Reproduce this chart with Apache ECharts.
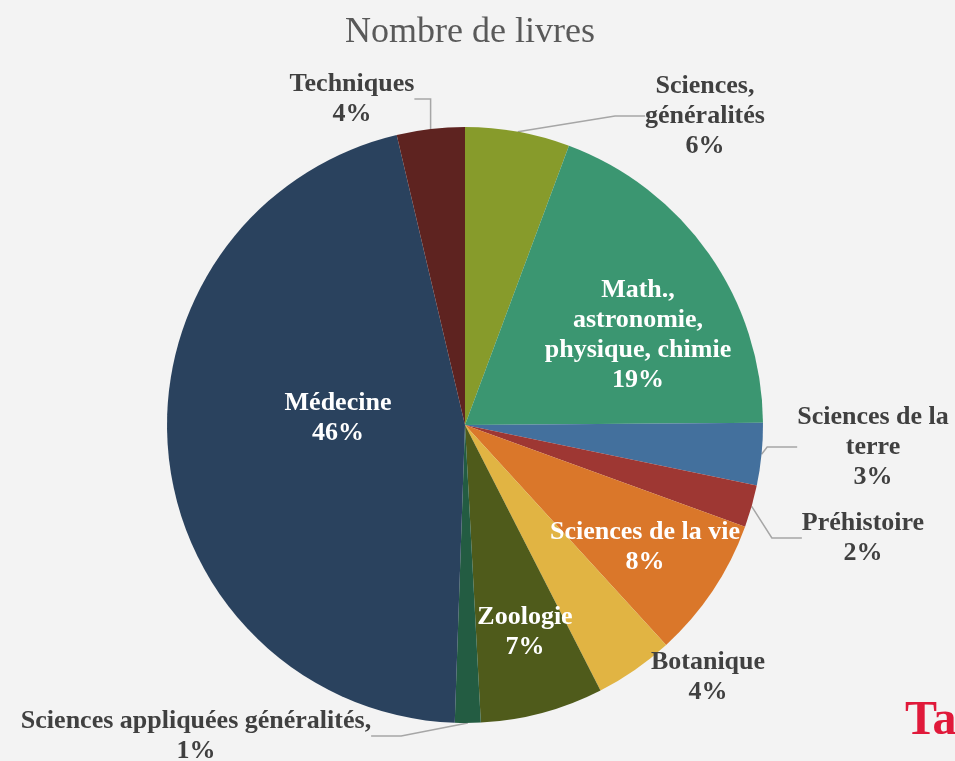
<!DOCTYPE html>
<html>
<head>
<meta charset="utf-8">
<script src="https://cdn.jsdelivr.net/npm/echarts@6/dist/echarts.min.js"></script>
<style>
  html, body { margin: 0; padding: 0; background: #f3f3f3; }
  #chart { width: 955px; height: 761px; }
</style>
</head>
<body>
<div id="chart"></div>
<script>
// données
const categories = [
  'Sciences, généralités',
  'Math., astronomie, physique, chimie',
  'Sciences de la terre',
  'Préhistoire',
  'Sciences de la vie',
  'Botanique',
  'Zoologie',
  'Sciences appliquées généralités',
  'Médecine',
  'Techniques'
]
const livres = [57, 193, 34, 23, 77, 43, 67, 14, 460, 37]
// libellés tels qu'affichés (retours à la ligne)
const labelNames = [
  'Sciences,\ngénéralités',
  'Math.,\nastronomie,\nphysique, chimie',
  'Sciences de la\nterre',
  'Préhistoire',
  'Sciences de la vie',
  'Botanique',
  'Zoologie',
  'Sciences appliquées généralités,',
  'Médecine',
  'Techniques'
]

const colors = ['#879b2b', '#3b9671', '#43709d', '#9e3733', '#da772a',
  '#e1b443', '#4f5b1b', '#235c42', '#2a425e', '#5e2320']
const inside = [false, true, false, false, true, false, true, false, true, false]
const showLine = [true, false, true, true, false, false, false, true, false, true]
// position des étiquettes (centre du bloc de texte)
const labelPos = [
  [705, 116], [638, 335], [873, 447], [863, 538], [645, 547],
  [708, 677], [525, 632], [196, 736], [338, 418], [352, 99]
]

const chart = echarts.init(document.getElementById('chart'))

const option = {
  backgroundColor: '#f3f3f3',
  title: {
    text: 'Nombre de livres',
    left: 340,
    top: 10,
    textStyle: {
      fontFamily: 'Liberation Serif',
      fontSize: 36,
      fontWeight: 'normal',
      color: '#595959'
    }
  },
  graphic: [
    {
      type: 'text',
      left: 905,
      top: 698,
      style: {
        text: 'Ta',
        fontFamily: 'Liberation Serif',
        fontSize: 48,
        fontWeight: 'bold',
        fill: '#e0193a'
      }
    }
  ],
  series: [
    {
      type: 'pie',
      center: [465, 425],
      radius: 298,
      startAngle: 90,
      clockwise: true,
      avoidLabelOverlap: false,
      data: livres.map((v, i) => ({
        name: categories[i],
        value: v,
        itemStyle: { color: colors[i] },
        label: {
          position: inside[i] ? 'inside' : 'outside',
          color: inside[i] ? '#ffffff' : '#404040'
        },
        labelLine: { show: showLine[i] }
      })),
      label: {
        fontFamily: 'Liberation Serif',
        fontSize: 26,
        fontWeight: 'bold',
        lineHeight: 30,
        align: 'center',
        formatter: (p) => labelNames[p.dataIndex] + '\n' + Math.round(p.percent) + '%'
      },
      labelLine: {
        lineStyle: { color: '#a6a6a6', width: 1.5 }
      },
      labelLayout: (params) => {
        const pos = labelPos[params.dataIndex]
        return { x: pos[0], y: pos[1], align: 'center', verticalAlign: 'middle' }
      },
      emphasis: { scale: false }
    }
  ]
}

chart.setOption(option)
</script>
</body>
</html>
